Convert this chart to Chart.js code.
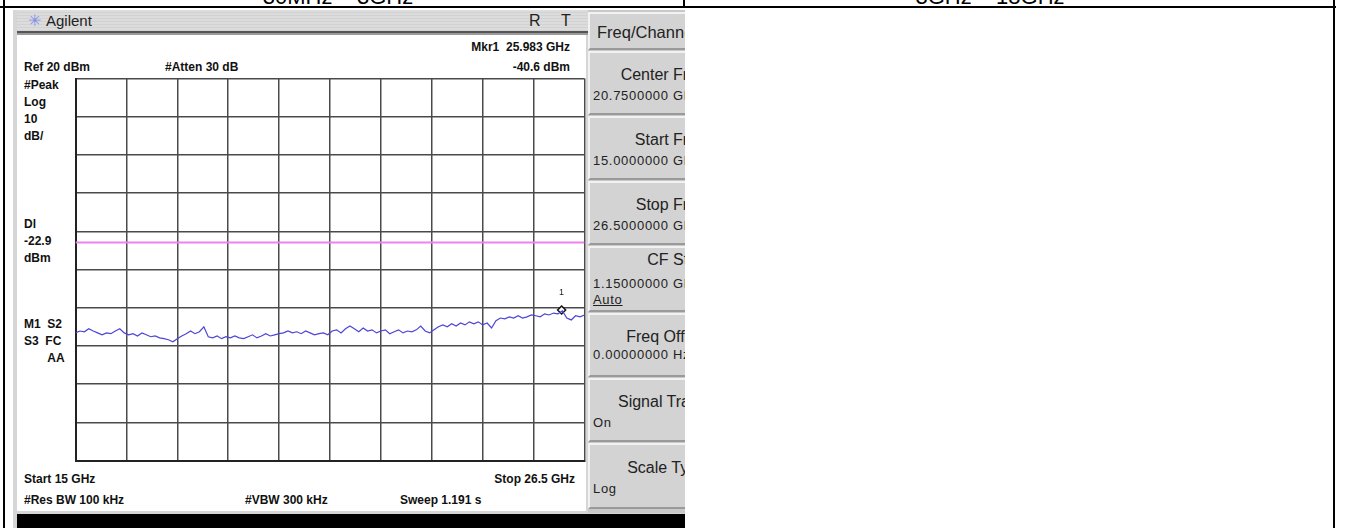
<!DOCTYPE html>
<html>
<head>
<meta charset="utf-8">
<script src="https://cdn.jsdelivr.net/npm/chart.js@4.4.1/dist/chart.umd.min.js"></script>
<style>
  html, body { margin: 0; padding: 0; background: #fff; }
  body { width: 1352px; height: 528px; position: relative; overflow: hidden; font-family: "Liberation Sans", Arial, sans-serif; }
  .abs { position: absolute; white-space: nowrap; }
  .line { position: absolute; background: #000; }
  .b { font-weight: bold; font-size: 12px; color: #111; line-height: 14px; }
  .key { position: absolute; left: 0; width: 140px; background: #d3d3d3;
         border-top: 2px solid #f2f2f2; border-left: 2px solid #f2f2f2;
         border-bottom: 2px solid #9a9a9a; }
  .key .t { position: absolute; right: 24px; font-size: 16px; color: #222; }
  .key .v { position: absolute; left: 3px; font-size: 13px; letter-spacing: 0.7px; color: #222; }
</style>
</head>
<body>
<!-- table frame -->
<div class="abs" style="left:338px;top:-16px;font-size:22px;transform:translateX(-50%);">30MHz – 3GHz</div>
<div class="abs" style="left:990px;top:-16px;font-size:22px;transform:translateX(-50%);">3GHz – 18GHz</div>
<div class="line" style="left:0;top:6px;width:1336px;height:2px;"></div>
<div class="line" style="left:3px;top:0;width:2px;height:528px;"></div>
<div class="line" style="left:1333px;top:0;width:2px;height:528px;"></div>
<div class="line" style="left:683px;top:0;width:2px;height:8px;"></div>

<!-- analyzer screenshot -->
<div class="abs" style="left:13px;top:10px;width:672px;height:518px;background:#d6d6d6;"></div>
<div class="abs" style="left:17px;top:10px;width:571px;height:22px;background:repeating-linear-gradient(#dcdcdc 0 2px,#d2d2d2 2px 3px);"></div>
<div class="abs" style="left:28px;top:11px;font-size:16px;color:#7f8fe8;">✳</div>
<div class="abs" style="left:46px;top:12px;font-size:15px;color:#222;">Agilent</div>
<div class="abs" style="left:529px;top:12px;font-size:16px;color:#222;">R</div>
<div class="abs" style="left:561px;top:12px;font-size:16px;color:#222;">T</div>
<div class="abs" style="left:17px;top:31px;width:571px;height:2px;background:#555;"></div>
<div class="abs" style="left:17px;top:33px;width:571px;height:2px;background:#9a9a9a;"></div>
<div class="abs" style="left:17px;top:35px;width:569px;height:476px;background:#fff;"></div>
<div class="abs" style="left:17px;top:514px;width:668px;height:14px;background:#000;"></div>

<div class="abs b" style="right:782px;top:40px;">Mkr1&nbsp; 25.983 GHz</div>
<div class="abs b" style="left:24px;top:60px;">Ref 20 dBm</div>
<div class="abs b" style="left:165px;top:60px;">#Atten 30 dB</div>
<div class="abs b" style="right:782px;top:60px;">-40.6 dBm</div>
<div class="abs b" style="left:24px;top:77px;line-height:17px;">#Peak<br>Log<br>10<br>dB/</div>
<div class="abs b" style="left:24px;top:216px;line-height:17px;">Dl<br>-22.9<br>dBm</div>
<div class="abs b" style="left:24px;top:316px;line-height:17px;">M1&nbsp; S2<br>S3&nbsp; FC<br>&nbsp;&nbsp;&nbsp;&nbsp;&nbsp;&nbsp;&nbsp;AA</div>
<div class="abs b" style="left:24px;top:472px;">Start 15 GHz</div>
<div class="abs b" style="right:777px;top:472px;">Stop 26.5 GHz</div>
<div class="abs b" style="left:24px;top:493px;">#Res BW 100 kHz</div>
<div class="abs b" style="left:245px;top:493px;">#VBW 300 kHz</div>
<div class="abs b" style="left:400px;top:493px;">Sweep 1.191 s</div>

<!-- softkeys -->
<div class="abs" style="left:588px;top:10px;width:97px;height:503px;overflow:hidden;background:#c9c9c9;">
  <div class="key" style="top:2px;height:34px;"><div class="abs" style="left:7px;top:9px;font-size:16.5px;color:#222;">Freq/Channel</div></div>
  <div class="key" style="top:41px;height:60px;"><div class="t" style="top:13px;">Center Freq</div><div class="v" style="top:35px;">20.7500000 GHz</div></div>
  <div class="key" style="top:106px;height:60px;"><div class="t" style="top:13px;">Start Freq</div><div class="v" style="top:35px;">15.0000000 GHz</div></div>
  <div class="key" style="top:171px;height:60px;"><div class="t" style="top:13px;">Stop Freq</div><div class="v" style="top:35px;">26.5000000 GHz</div></div>
  <div class="key" style="top:236px;height:62px;"><div class="t" style="top:3px;">CF Step</div><div class="v" style="top:28px;">1.15000000 GHz</div><div class="v" style="top:44px;text-decoration:underline;">Auto</div></div>
  <div class="key" style="top:303px;height:60px;"><div class="t" style="top:13px;">Freq Offset</div><div class="v" style="top:32px;">0.00000000 Hz</div></div>
  <div class="key" style="top:368px;height:60px;"><div class="t" style="top:13px;">Signal Track</div><div class="v" style="top:35px;">On</div></div>
  <div class="key" style="top:433px;height:62px;"><div class="t" style="top:14px;">Scale Type</div><div class="v" style="top:36px;">Log</div></div>
</div>

<div class="abs" style="left:70px;top:73px;width:520px;height:393px;">
  <canvas id="myChart" width="520" height="393"></canvas>
</div>

<script>
// sweep frequencies (GHz) and measured trace (dBm)
const freqs = [
  15.0, 15.1, 15.2, 15.3, 15.4, 15.5, 15.6, 15.7, 15.8, 15.9,
  16.0, 16.1, 16.2, 16.3, 16.4, 16.5, 16.6, 16.7, 16.8, 16.9,
  17.0, 17.1, 17.2, 17.3, 17.4, 17.5, 17.6, 17.7, 17.8, 17.9,
  18.0, 18.1, 18.2, 18.3, 18.4, 18.5, 18.6, 18.7, 18.8, 18.9,
  19.0, 19.1, 19.2, 19.3, 19.4, 19.5, 19.6, 19.7, 19.8, 19.9,
  20.0, 20.1, 20.2, 20.3, 20.4, 20.5, 20.6, 20.7, 20.8, 20.9,
  21.0, 21.1, 21.2, 21.3, 21.4, 21.5, 21.6, 21.7, 21.8, 21.9,
  22.0, 22.1, 22.2, 22.3, 22.4, 22.5, 22.6, 22.7, 22.8, 22.9,
  23.0, 23.1, 23.2, 23.3, 23.4, 23.5, 23.6, 23.7, 23.8, 23.9,
  24.0, 24.1, 24.2, 24.3, 24.4, 24.5, 24.6, 24.7, 24.8, 24.9,
  25.0, 25.1, 25.2, 25.3, 25.4, 25.5, 25.6, 25.7, 25.8, 25.9,
  26.0, 26.1, 26.2, 26.3, 26.4, 26.5
];
const traceDbm = [
  -46.6, -46.1, -46.3, -45.5, -46.1, -46.6, -47.1, -46.6, -46.8, -46.1,
  -45.5, -46.6, -47.1, -46.8, -47.4, -46.6, -47.1, -47.6, -47.4, -47.9,
  -48.1, -48.4, -48.9, -48.1, -47.4, -46.8, -46.1, -46.8, -46.3, -45.0,
  -47.6, -47.9, -47.4, -48.1, -47.6, -47.9, -47.4, -47.9, -48.1, -47.6,
  -47.1, -47.9, -47.4, -46.8, -47.4, -47.1, -46.8, -46.6, -46.1, -46.6,
  -46.3, -46.8, -46.1, -46.6, -47.1, -46.8, -46.6, -47.1, -46.1, -45.8,
  -46.6, -45.5, -44.8, -45.5, -46.3, -45.3, -46.1, -45.8, -46.6, -46.1,
  -45.8, -46.8, -46.3, -45.8, -46.6, -46.1, -46.3, -45.8, -44.8, -46.1,
  -46.6, -45.8, -45.0, -44.5, -45.0, -44.2, -44.8, -44.0, -44.5, -43.7,
  -44.2, -43.7, -44.5, -44.0, -45.3, -43.4, -42.7, -42.9, -42.4, -42.7,
  -42.1, -42.7, -42.4, -41.9, -42.1, -42.4, -41.6, -41.9, -41.4, -41.6,
  -40.8, -42.7, -43.2, -42.1, -42.4, -41.9
];
const displayLine = -22.9;
const markerFreq = 25.983;
const markerDbm = -40.6;
const startGHz = 15, stopGHz = 26.5;
const refDbm = 20, bottomDbm = -80;
const xGrid = [15, 16.15, 17.3, 18.45, 19.6, 20.75, 21.9, 23.05, 24.2, 25.35, 26.5];

const markerLabel = {
  id: "markerLabel",
  afterDatasetsDraw(chart) {
    const pt = chart.getDatasetMeta(2).data[0];
    if (!pt) return;
    const ctx = chart.ctx;
    ctx.save();
    ctx.font = "9px 'Liberation Sans'";
    ctx.fillStyle = "#222";
    ctx.textAlign = "center";
    ctx.fillText("1", pt.x, pt.y - 15);
    ctx.restore();
  }
};

new Chart("myChart", {
  type: "line",
  data: {
    datasets: [
      {
        label: "Trace",
        data: freqs.map((f, i) => ({ x: f, y: traceDbm[i] })),
        borderColor: "#4b45d8",
        borderWidth: 1.2,
        pointRadius: 0,
        tension: 0
      },
      {
        label: "Display line",
        data: [{ x: startGHz, y: displayLine }, { x: stopGHz, y: displayLine }],
        borderColor: "#ee82ee",
        borderWidth: 2,
        pointRadius: 0
      },
      {
        label: "Mkr1",
        data: [{ x: markerFreq, y: markerDbm }],
        showLine: false,
        pointStyle: "rectRot",
        pointRadius: 4,
        pointBackgroundColor: "#fff",
        pointBorderColor: "#111",
        pointBorderWidth: 1.5
      }
    ]
  },
  options: {
    responsive: false,
    animation: false,
    devicePixelRatio: 1,
    layout: { padding: 5 },
    plugins: { legend: { display: false }, tooltip: { enabled: false } },
    scales: {
      x: {
        type: "linear",
        min: startGHz,
        max: stopGHz,
        afterBuildTicks: (axis) => { axis.ticks = xGrid.map(v => ({ value: v })); },
        ticks: { display: false },
        grid: { color: "#4a4a4a", lineWidth: 1.5, drawTicks: false },
        border: { color: "#222", width: 2 }
      },
      y: {
        min: bottomDbm,
        max: refDbm,
        ticks: { display: false, stepSize: 10 },
        grid: { color: "#4a4a4a", lineWidth: 1.5, drawTicks: false },
        border: { color: "#222", width: 2 }
      }
    }
  },
  plugins: [markerLabel]
});
</script>
</body>
</html>
